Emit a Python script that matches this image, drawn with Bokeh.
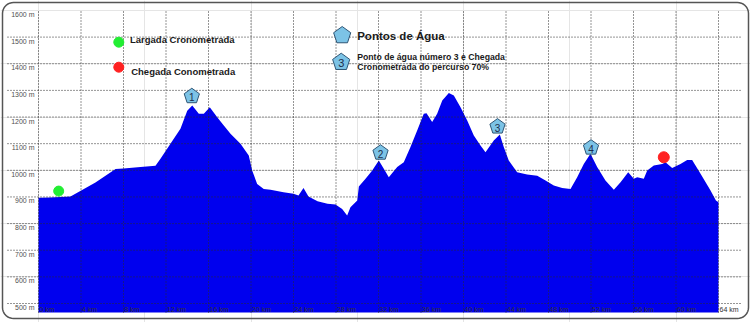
import numpy as np
from bokeh.plotting import figure
from bokeh.models import Range1d
from bokeh.core.properties import value
from bokeh.embed import file_html
from bokeh.resources import INLINE

# ---- data -------------------------------------------------------------
km = [0, 1.0, 2.07, 3.01, 5.36, 7.25, 8.0, 9.6, 11.01, 11.48, 12.42, 13.36,
      14.0, 14.47, 15.09, 15.56, 16.12, 16.82, 17.44, 18.07, 19.01, 19.79,
      20.11, 20.58, 21.2, 21.84, 23.06, 24.0, 24.47, 24.94, 25.41, 26.26,
      27.2, 27.95, 28.58, 29.05, 29.36, 30.0, 30.15, 30.78, 31.41, 32.03,
      32.5, 32.97, 33.76, 34.38, 35.01, 35.64, 36.26, 36.52, 37.05, 37.52,
      38.0, 38.62, 39.09, 39.72, 40.35, 40.97, 41.6, 42.07, 42.85, 43.42,
      43.79, 44.26, 45.05, 45.99, 46.94, 47.72, 48.5, 49.29, 50.07, 50.7,
      51.32, 51.95, 52.58, 53.36, 54.15, 54.78, 55.5, 56.03, 56.35, 56.97,
      57.29, 57.91, 58.7, 59.01, 59.64, 60.42, 61.05, 61.52, 62.31, 63.25,
      63.76, 64.0]
elev = [897, 898, 900, 902, 954, 1005, 1007, 1012, 1017, 1043, 1100, 1156,
        1224, 1243, 1212, 1212, 1237, 1199, 1168, 1137, 1100, 1056,
        999, 949, 930, 927, 918, 912, 905, 934, 902, 884,
        874, 872, 855, 830, 861, 887, 939, 968, 999, 1037,
        1006, 974, 1012, 1030, 1087, 1149, 1212, 1214, 1181, 1212,
        1262, 1290, 1281, 1237, 1187, 1131, 1093, 1068, 1112, 1134,
        1087, 1037, 993, 984, 980, 962, 943, 934, 930, 974,
        1024, 1062, 1012, 962, 927, 955, 993, 968, 974, 968,
        999, 1018, 1024, 1030, 1009, 1024, 1039, 1039, 987, 924,
        887, 880]

water_km = [14.43, 32.19, 43.2, 52.0]
water_elev = [1278, 1066, 1164, 1085]
water_labels = ["1", "2", "3", "4"]

start_km, start_elev = [1.9], [922]
finish_km, finish_elev = [58.85], [1049]

x_ticks = list(range(0, 65, 4))
x_tick_labels = [f"{t} km" for t in x_ticks]
y_grid = list(range(500, 1600, 100))
y_ticks = list(range(500, 1700, 100))
y_tick_labels = [f"{t} m" for t in y_ticks]

legend_start = "Largada Cronometrada"
legend_finish = "Chegada Conometrada"
legend_water = "Pontos de Água"
legend_water3 = ["Ponto de água número 3 e Chegada", "Cronometrada do percurso 70%"]

# ---- layout -----------------------------------------------------------
W, H = 750, 322
PX_KM = 10.625       # pixels per km
PX_M = 0.2664        # pixels per metre
OX, OY = 38, 303     # pixel of (0 km, 500 m)


def ref(px, py):
    """pixel position on the canvas -> data position (layout helper)"""
    return (px - OX) / PX_KM, 500 + (OY - py) / PX_M


X0, Y1 = ref(0, 0)
X1, Y0 = ref(W, H)
_, AREA_BOTTOM = ref(0, 312)
_, GRID_TOP = ref(0, 10)
GRID_LEFT, _ = ref(7, 0)
GRID_RIGHT, _ = ref(740, 0)


def pentagon(cx, cy, r):
    ang = np.deg2rad(90 + 72 * np.arange(5))
    return list(cx + r * np.cos(ang) / PX_KM), list(cy + r * np.sin(ang) / PX_M)


def rounded_rect(x0, y0, x1, y1, r):
    pts = []
    for (cx, cy, t0) in ((x1 - r, y0 + r, 90), (x1 - r, y1 - r, 0),
                         (x0 + r, y1 - r, -90), (x0 + r, y0 + r, -180)):
        for t in np.deg2rad(np.linspace(t0, t0 - 90, 10)):
            pts.append((cx + r * np.cos(t), cy - r * np.sin(t)))
    pts.append(pts[0])
    xs = [ref(px, py)[0] for px, py in pts]
    ys = [ref(px, py)[1] for px, py in pts]
    return xs, ys


FONT = value("Liberation Sans")

p = figure(width=W, height=H, output_backend="svg", toolbar_location=None,
           x_axis_location=None, y_axis_location=None,
           x_range=Range1d(X0, X1), y_range=Range1d(Y0, Y1))
p.min_border_left = 0
p.min_border_right = 0
p.min_border_top = 0
p.min_border_bottom = 0
p.outline_line_color = None
p.background_fill_color = "white"
p.border_fill_color = "white"

# profile area
p.varea(x=km, y1=[AREA_BOTTOM] * len(km), y2=elev, fill_color="#0000EE")

# dotted grid (drawn from the tick lists), on top of the area
GRID = dict(line_color="#2A2A2A", line_dash="1 2", line_width=1)
p.segment(x0=x_ticks, y0=[AREA_BOTTOM] * len(x_ticks), x1=x_ticks,
          y1=[GRID_TOP] * len(x_ticks), **GRID)
p.segment(x0=[GRID_LEFT] * len(y_grid), y0=y_grid, x1=[GRID_RIGHT] * len(y_grid),
          y1=y_grid, **GRID)

# tick labels
p.text(x=[0] * len(y_ticks), y=y_ticks, text=y_tick_labels, text_align="right",
       text_baseline="middle", x_offset=-4, y_offset=4, text_font=FONT,
       text_font_size="7px", text_color="#505050")
p.text(x=x_ticks, y=[500] * len(x_ticks), text=x_tick_labels, text_align="left",
       text_baseline="top", x_offset=1, y_offset=2, text_font=FONT,
       text_font_size="7px", text_color="#333333")

# start / finish markers
p.scatter(start_km, start_elev, marker="circle", size=10, fill_color="#22EE33",
          line_color="#22EE33")
p.scatter(finish_km, finish_elev, marker="circle", size=11, fill_color="#FF2222",
          line_color="#FF2222")

# water points
PENT_FILL = "#7CC3E6"
PENT_LINE = "#2E5575"
xs, ys = [], []
for k, e in zip(water_km, water_elev):
    a, b = pentagon(k, e, 8)
    xs.append(a)
    ys.append(b)
p.patches(xs, ys, fill_color=PENT_FILL, line_color=PENT_LINE, line_width=1)
p.text(x=water_km, y=water_elev, text=water_labels, text_align="center",
       text_baseline="middle", y_offset=1, text_font=FONT, text_font_size="10px",
       text_color="#1B2B4B")

# legend
gx, gy = ref(118.3, 41.7)
rx, ry = ref(118.3, 66.7)
p.scatter([gx], [gy], marker="circle", size=10, fill_color="#22EE33", line_color="#22EE33")
p.scatter([rx], [ry], marker="circle", size=10, fill_color="#FF2222", line_color="#FF2222")
tx, ty = ref(129.5, 38.7)
p.text(x=[tx], y=[ty], text=[legend_start], text_align="left", text_baseline="middle",
       text_font=FONT, text_font_size="9.5px", text_font_style="bold", text_color="#1A1A1A")
tx, ty = ref(130.7, 70.7)
p.text(x=[tx], y=[ty], text=[legend_finish], text_align="left", text_baseline="middle",
       text_font=FONT, text_font_size="9.5px", text_font_style="bold", text_color="#1A1A1A")

px1, py1 = ref(341.7, 35)
px3, py3 = ref(340.7, 61.7)
a1, b1 = pentagon(px1, py1, 9)
a3, b3 = pentagon(px3, py3, 9)
p.patches([a1, a3], [b1, b3], fill_color=PENT_FILL, line_color=PENT_LINE, line_width=1)
p.text(x=[px3], y=[py3], text=[water_labels[2]], text_align="center", text_baseline="middle",
       y_offset=1, text_font=FONT, text_font_size="11px", text_color="#1B2B4B")
tx, ty = ref(356.7, 35.7)
p.text(x=[tx], y=[ty], text=[legend_water], text_align="left", text_baseline="middle",
       text_font=FONT, text_font_size="11.5px", text_font_style="bold", text_color="#1A1A1A")
tx, ty = ref(356.7, 56)
p.text(x=[tx], y=[ty], text=[legend_water3[0]], text_align="left", text_baseline="middle",
       text_font=FONT, text_font_size="8.7px", text_font_style="bold", text_color="#1A1A1A")
tx, ty = ref(356.7, 66.7)
p.text(x=[tx], y=[ty], text=[legend_water3[1]], text_align="left", text_baseline="middle",
       text_font=FONT, text_font_size="8.7px", text_font_style="bold", text_color="#1A1A1A")

# outer rounded frame
bx, by = rounded_rect(2, 2, 748, 318, 11)
p.line(bx, by, line_color="#555555", line_width=1.5)

open("out.html", "w").write(file_html(p, INLINE))
